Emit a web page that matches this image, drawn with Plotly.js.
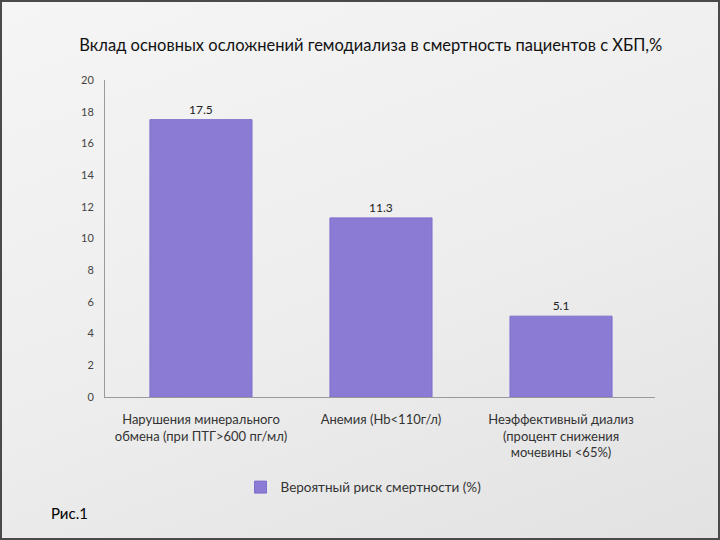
<!DOCTYPE html>
<html>
<head>
<meta charset="utf-8">
<script src="https://cdn.plot.ly/plotly-3.0.1.min.js"></script>
<style>
html,body{margin:0;padding:0;width:720px;height:540px;overflow:hidden;}
body{background:linear-gradient(160deg,#f5f5f5 0%,#ededed 55%,#e2e2e2 100%);}
#chart{width:720px;height:540px;position:absolute;left:0;top:0;}
#frame{position:absolute;left:0;top:0;width:716px;height:536px;border:2px solid #4a4a4a;pointer-events:none;}
</style>
</head>
<body>
<div id="chart"></div>
<div id="frame"></div>
<script>
const categories = [
  "Нарушения минерального<br>обмена (при ПТГ>600 пг/мл)",
  "Анемия (Hb<110г/л)",
  "Неэффективный диализ<br>(процент снижения<br>мочевины <65%)"
];
const values = [17.5, 11.3, 5.1];
const valueLabels = ["17.5", "11.3", "5.1"];
const seriesName = "Вероятный риск смертности (%)";
const tickValues = [0, 2, 4, 6, 8, 10, 12, 14, 16, 18, 20];

const font = "Lato, 'Open Sans', sans-serif";

const trace = {
  type: "bar",
  x: [0, 1, 2],
  y: values,
  name: seriesName,
  text: valueLabels,
  textposition: "outside",
  textfont: {family: font, size: 12, color: "#222"},
  cliponaxis: false,
  marker: {color: "#8b7bd4", line: {color: "#7f6fcc", width: 1}},
  width: 0.567,
  showlegend: true
};

const layout = {
  width: 720, height: 540,
  paper_bgcolor: "rgba(0,0,0,0)",
  plot_bgcolor: "rgba(0,0,0,0)",
  margin: {l: 105, r: 65, t: 80, b: 143, pad: 0},
  font: {family: font, color: "#333"},
  title: {
    text: "Вклад основных осложнений гемодиализа в смертность пациентов с ХБП,%",
    font: {family: font, size: 16.5, color: "#111"},
    x: 0.515, xanchor: "center", y: 0.917, yanchor: "middle"
  },
  xaxis: {
    range: [-0.533, 2.522],
    tickmode: "array",
    tickvals: [0, 1, 2],
    ticktext: categories,
    showline: true, linecolor: "#9a9a9a", linewidth: 1,
    showgrid: false, zeroline: false, ticks: "",
    ticklabelstandoff: 10,
    tickfont: {family: font, size: 13, color: "#333"},
    fixedrange: true
  },
  yaxis: {
    range: [0, 20],
    tickmode: "array",
    tickvals: tickValues,
    ticktext: tickValues.map(String),
    showline: true, linecolor: "#9a9a9a", linewidth: 1,
    showgrid: false, zeroline: false, ticks: "",
    ticklabelstandoff: 8,
    tickfont: {family: font, size: 11, color: "#444"},
    fixedrange: true
  },
  legend: {
    orientation: "h",
    x: 0.47, xanchor: "center",
    y: -0.285, yanchor: "middle",
    itemwidth: 30,
    font: {family: font, size: 13.5, color: "#333"},
    bgcolor: "rgba(0,0,0,0)"
  },
  annotations: [{
    text: "Рис.1",
    xref: "paper", yref: "paper",
    x: -0.064, xanchor: "center",
    y: -0.365, yanchor: "middle",
    showarrow: false,
    font: {family: font, size: 15, color: "#000"}
  }]
};

Plotly.newPlot("chart", [trace], layout, {displayModeBar: false, staticPlot: true});
</script>
</body>
</html>
